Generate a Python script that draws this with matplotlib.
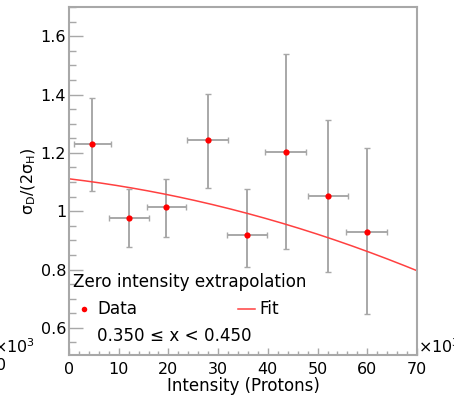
import numpy as np
import matplotlib
matplotlib.use("Agg")
import matplotlib.pyplot as plt
from matplotlib.ticker import MultipleLocator

plt.rcParams['font.family'] = ['DejaVu Sans']
plt.rcParams['mathtext.fontset'] = 'dejavusans'

# Intensity in units of 10^3 protons
intensity = [4.7, 12.0, 19.6, 27.9, 35.8, 43.6, 52.1, 59.9]
intensity_err = [3.7, 4.0, 4.0, 4.1, 4.1, 4.1, 4.1, 4.1]
ratio = [1.229, 0.975, 1.013, 1.244, 0.920, 1.203, 1.052, 0.930]
ratio_err_up = [0.158, 0.101, 0.098, 0.158, 0.155, 0.337, 0.262, 0.286]
ratio_err_down = [0.161, 0.099, 0.103, 0.164, 0.113, 0.333, 0.262, 0.284]

# Quadratic fit parameters: p0 + p1*x + p2*x^2
fit_p0 = 1.111
fit_p1 = -0.00205
fit_p2 = -3.5e-5

fig = plt.figure(figsize=(4.54, 3.99), dpi=100)
ax = fig.add_axes([69/454, 1 - 355/399, 348/454, 348/399])

gray = '#a8a8a8'
ax.errorbar(intensity, ratio, xerr=intensity_err,
            yerr=[ratio_err_down, ratio_err_up],
            fmt='none', ecolor=gray, elinewidth=1.4, capsize=2.5,
            capthick=1.0, zorder=2)
ax.plot(intensity, ratio, 'o', color='red', markersize=4.5, zorder=3,
        markeredgewidth=0)

xf = np.linspace(0, 70, 200)
ax.plot(xf, fit_p0 + fit_p1 * xf + fit_p2 * xf**2, color='#ff4040', lw=1.1,
        zorder=2)

ax.set_xlim(0, 70)
ax.set_ylim(0.507, 1.70)

ax.xaxis.set_major_locator(MultipleLocator(10))
ax.xaxis.set_minor_locator(MultipleLocator(2))
ax.yaxis.set_minor_locator(MultipleLocator(0.05))

ax.set_yticks([0.6, 0.8, 1.0, 1.2, 1.4, 1.6])
ax.set_yticklabels(['0.6', '0.8', '1', '1.2', '1.4', '1.6'])

ax.tick_params(axis='both', which='both', direction='in', color=gray,
               labelsize=11.5, top=False, right=False)
ax.tick_params(axis='x', which='major', length=5, width=1, pad=5)
ax.tick_params(axis='x', which='minor', length=3, width=1)
ax.tick_params(axis='y', which='major', length=10, width=1, pad=2)
ax.tick_params(axis='y', which='minor', length=5, width=1)

for s in ax.spines.values():
    s.set_color(gray)
    s.set_linewidth(1.5)

ax.set_xlabel('Intensity (Protons)', fontsize=12, labelpad=0)
ax.set_ylabel(r'$\mathregular{\sigma_D/(2\sigma_H)}$', fontsize=11.5, labelpad=2)

# Legend block
fs_leg = 12.1
ax.text(73/454, 1 - 282/399, 'Zero intensity extrapolation', transform=fig.transFigure,
        fontsize=fs_leg, ha='left', va='center')
ax.plot([84/454], [1 - 309/399], 'o', color='red', markersize=4,
        markeredgewidth=0, transform=fig.transFigure, clip_on=False)
ax.text(97/454, 1 - 309/399, 'Data', transform=fig.transFigure,
        fontsize=fs_leg, ha='left', va='center')
ax.plot([238/454, 255/454], [1 - 309/399, 1 - 309/399], color='#ff4040', lw=1.1,
        transform=fig.transFigure, clip_on=False)
ax.text(259/454, 1 - 309/399, 'Fit', transform=fig.transFigure,
        fontsize=fs_leg, ha='left', va='center')
ax.text(97/454, 1 - 336/399, '0.350 \u2264 x < 0.450', transform=fig.transFigure,
        fontsize=fs_leg, ha='left', va='center')

# Axis exponent labels
fig.text(418/454, 1 - 353/399, r'$\times$10$^3$', fontsize=11.5, ha='left',
         va='baseline')
fig.text(35/454, 1 - 353/399, r'$\times$10$^3$', fontsize=11.5, ha='right',
         va='baseline')
fig.text(1/454, 1 - 366/399, '0', fontsize=11.5, ha='center', va='center')

fig.savefig('out.png', dpi=100)
